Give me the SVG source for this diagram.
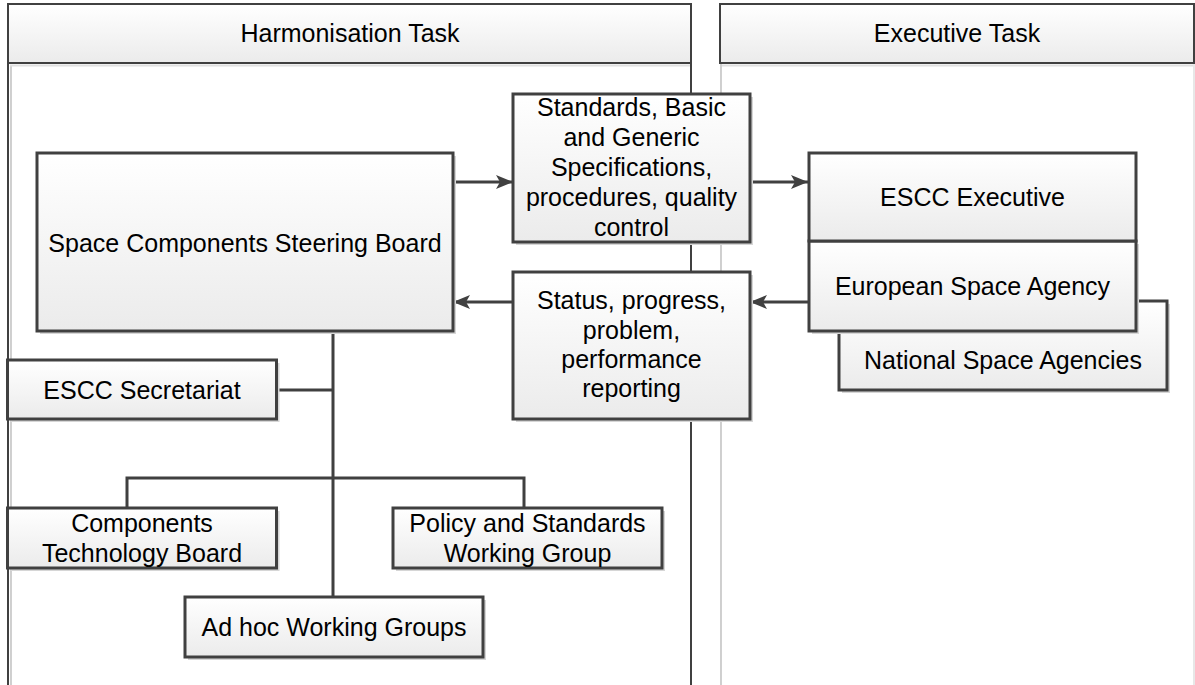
<svg xmlns="http://www.w3.org/2000/svg" width="1195" height="685" viewBox="0 0 1195 685">
<defs>
<linearGradient id="g" x1="0" y1="0" x2="0" y2="1">
<stop offset="0" stop-color="#ffffff"/>
<stop offset="1" stop-color="#ebebeb"/>
</linearGradient>
<marker id="ah" markerWidth="18" markerHeight="16" refX="17" refY="8" orient="auto" markerUnits="userSpaceOnUse">
<path d="M0,1 L17,8 L0,15 L4,8 Z" fill="#404040"/>
</marker>
</defs>
<style>
.box{fill:url(#g);stroke:#404040;stroke-width:3}
.sh{fill:#d6d6d6}
.hdr{fill:url(#g);stroke:#404040;stroke-width:2}
.t{font-family:"Liberation Sans",Arial,sans-serif;font-size:25px;fill:#000;text-anchor:middle}
.c{fill:none;stroke:#404040;stroke-width:3}
.ln{stroke:#404040;stroke-width:2;fill:none}
.lt{stroke:#b0b0b0;stroke-width:1.2;fill:none}
</style>
<rect width="1195" height="685" fill="#fff"/>
<g id="pool-harmonisation">
<line class="lt" x1="11" y1="65" x2="11" y2="685"/>
<line class="ln" x1="8" y1="4" x2="8" y2="685"/>
<line class="ln" x1="691" y1="4" x2="691" y2="685"/>
<rect class="hdr" x="8" y="4" width="683" height="59"/>
<line x1="10" y1="65.5" x2="690" y2="65.5" stroke="#e0e0e0" stroke-width="2"/>
<text class="t" x="350" y="42">Harmonisation Task</text>
</g>
<g id="pool-executive">
<line class="lt" x1="721" y1="63" x2="721" y2="685"/>
<line x1="1194" y1="63" x2="1194" y2="685" stroke="#d8d8d8" stroke-width="1.2"/>
<rect class="hdr" x="720" y="4" width="474" height="59"/>
<line x1="722" y1="65.5" x2="1193" y2="65.5" stroke="#e0e0e0" stroke-width="2"/>
<text class="t" x="957" y="42">Executive Task</text>
</g>
<g id="connectors">
<line class="c" x1="453" y1="182" x2="513" y2="182" marker-end="url(#ah)"/>
<line class="c" x1="750" y1="182" x2="808" y2="182" marker-end="url(#ah)"/>
<line class="c" x1="513" y1="302" x2="453" y2="302" marker-end="url(#ah)"/>
<line class="c" x1="808" y1="302" x2="750" y2="302" marker-end="url(#ah)"/>
<line class="c" x1="333" y1="331" x2="333" y2="597"/>
<line class="c" x1="276" y1="390" x2="333" y2="390"/>
<path class="c" d="M127,508 V478 H524 V508"/>
</g>
<g id="scsb">
<rect class="sh" x="40" y="156" width="416" height="178"/>
<rect class="box" x="37" y="153" width="416" height="178"/>
<text class="t" x="245" y="252">Space Components Steering Board</text>
</g>
<g id="standards">
<rect class="sh" x="516" y="97" width="237" height="148"/>
<rect class="box" x="513" y="94" width="237" height="148"/>
<text class="t" x="631.5" y="116">Standards, Basic</text>
<text class="t" x="631.5" y="146">and Generic</text>
<text class="t" x="631.5" y="176">Specifications,</text>
<text class="t" x="631.5" y="206">procedures, quality</text>
<text class="t" x="631.5" y="236">control</text>
</g>
<g id="status">
<rect class="sh" x="516" y="275" width="237" height="147"/>
<rect class="box" x="513" y="272" width="237" height="147"/>
<text class="t" x="631.5" y="309">Status, progress,</text>
<text class="t" x="631.5" y="339">problem,</text>
<text class="t" x="631.5" y="368">performance</text>
<text class="t" x="631.5" y="397">reporting</text>
</g>
<g id="national">
<rect class="sh" x="842" y="304" width="328" height="89"/>
<rect class="box" x="839" y="301" width="328" height="89"/>
<text class="t" x="1003" y="369">National Space Agencies</text>
</g>
<g id="esa">
<rect class="sh" x="812" y="244" width="327" height="90"/>
<rect class="box" x="809" y="241" width="327" height="90"/>
<text class="t" x="972.5" y="295">European Space Agency</text>
</g>
<g id="escc-executive">
<rect class="box" x="809" y="153" width="327" height="88"/>
<text class="t" x="972.5" y="206">ESCC Executive</text>
</g>
<g id="secretariat">
<rect class="sh" x="10.5" y="363" width="269" height="59"/>
<rect class="box" x="7.5" y="360" width="269" height="59"/>
<text class="t" x="142" y="399">ESCC Secretariat</text>
</g>
<g id="ctb">
<rect class="sh" x="10.5" y="511" width="269" height="60"/>
<rect class="box" x="7.5" y="508" width="269" height="60"/>
<text class="t" x="142" y="532">Components</text>
<text class="t" x="142" y="562">Technology Board</text>
</g>
<g id="pswg">
<rect class="sh" x="396" y="511" width="269" height="60"/>
<rect class="box" x="393" y="508" width="269" height="60"/>
<text class="t" x="527.5" y="532">Policy and Standards</text>
<text class="t" x="527.5" y="562">Working Group</text>
</g>
<g id="adhoc">
<rect class="sh" x="188" y="600" width="298" height="60"/>
<rect class="box" x="185" y="597" width="298" height="60"/>
<text class="t" x="334" y="636">Ad hoc Working Groups</text>
</g>
</svg>
